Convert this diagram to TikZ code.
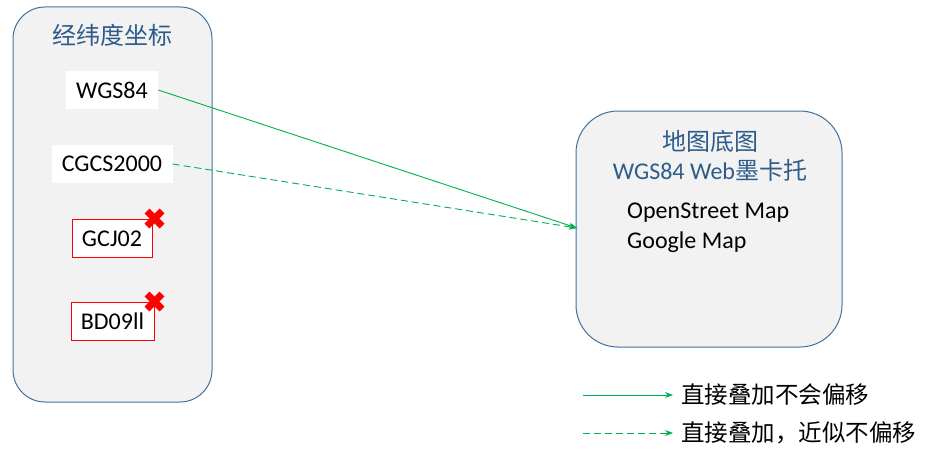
\documentclass[tikz,border=0pt]{standalone}
\usepackage{fontspec}
\setmainfont{Carlito}
\newfontfamily\cjk{Noto Sans CJK SC}
\usetikzlibrary{arrows.meta}
\definecolor{panelfill}{HTML}{F2F2F2}
\definecolor{panelline}{HTML}{41719C}
\definecolor{titlecol}{HTML}{2E5C8A}
\definecolor{grn}{HTML}{00B050}
\tikzset{
  panel/.style={draw=panelline, fill=panelfill, line width=1pt},
  whitebox/.style={fill=white, minimum height=38pt, inner xsep=4pt, font=\fontsize{24}{28}\selectfont},
  redbox/.style={draw=red, fill=white, line width=1pt, minimum height=38pt, inner xsep=4pt, font=\fontsize{24}{28}\selectfont},
  cross/.style={red, line width=7pt},
  titletext/.style={text=titlecol, font=\fontsize{24}{28}\selectfont, align=center},
  conn/.style={grn, line width=0.9pt, -{Stealth[length=8pt,width=6pt]}},
  dconn/.style={conn, dash pattern=on 7pt off 4pt},
}
\begin{document}
\begin{tikzpicture}[x=1pt,y=-1pt]
\useasboundingbox (0,0) rectangle (933,460);
% left panel
\draw[panel, rounded corners=32pt] (13,7) rectangle (212,402);
\node[titletext] (lt) at (112,35) {\cjk 经纬度坐标};
\node[whitebox, minimum width=92pt] (wgs) at (112,90) {WGS84};
\node[whitebox, minimum width=121pt] (cgcs) at (112,164) {CGCS2000};
\node[redbox, minimum width=80pt] (gcj) at (112,238.5) {GCJ02};
\node[redbox, minimum width=83pt] (bd) at (112.5,321.5) {BD09ll};
\coordinate (x1) at (154.5,218.5);
\coordinate (x2) at (154.5,301.5);
\draw[cross] ([shift={(-7.5,-7.5)}]x1) -- ([shift={(7.5,7.5)}]x1);
\draw[cross] ([shift={(-7.5,7.5)}]x1) -- ([shift={(7.5,-7.5)}]x1);
\draw[cross] ([shift={(-7.5,-7.5)}]x2) -- ([shift={(7.5,7.5)}]x2);
\draw[cross] ([shift={(-7.5,7.5)}]x2) -- ([shift={(7.5,-7.5)}]x2);
% right panel
\draw[panel, rounded corners=42pt] (576,111) rectangle (842,347);
\coordinate (tgt) at (577,228);
\node[titletext, inner sep=0pt] (rt1) at (710,141) {\cjk 地图底图};
\node[titletext, inner sep=0pt] (rt2) at (710,170) {WGS84 Web{\cjk 墨卡托}};
\node[anchor=west, inner sep=0pt, font=\fontsize{24}{28}\selectfont] (osm) at (627,213) {OpenStreet Map};
\node[anchor=west, inner sep=0pt, font=\fontsize{24}{28}\selectfont] (gm) at (627,242) {Google Map};
% connectors
\draw[conn] (wgs.east) -- (tgt);
\draw[dconn] (cgcs.east) -- (tgt);
% legend
\coordinate (l1a) at (583,395);
\coordinate (l1b) at (673,395);
\coordinate (l2a) at (583,433);
\coordinate (l2b) at (673,433);
\draw[conn] (l1a) -- (l1b);
\draw[dconn] (l2a) -- (l2b);
\node[anchor=west, inner sep=0pt, font=\cjk\fontsize{23.5}{27}\selectfont] (lg1) at (681,395) {直接叠加不会偏移};
\node[anchor=west, inner sep=0pt, font=\cjk\fontsize{23.5}{27}\selectfont] (lg2) at (681,433) {直接叠加，近似不偏移};
\end{tikzpicture}
\end{document}
